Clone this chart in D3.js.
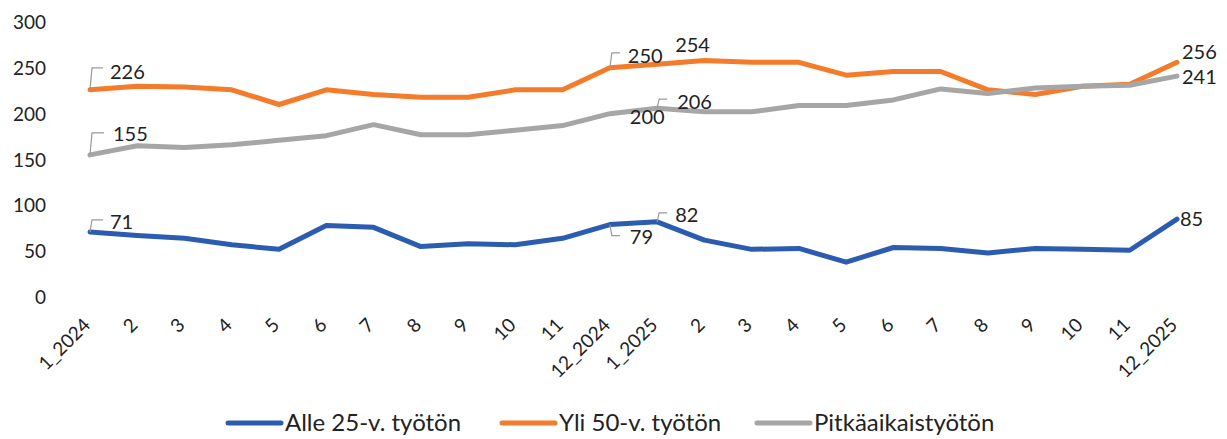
<!DOCTYPE html>
<html>
<head>
<meta charset="utf-8">
<script src="https://cdn.jsdelivr.net/npm/d3@7"></script>
<style>
  body { margin: 0; background: #fff; }
  text { font-family: Lato, "Noto Sans", sans-serif; fill: #222; }
  .tick text { font-size: 19px; }
  .lbl { font-size: 20px; }
  .legend text { font-size: 24px; }
</style>
</head>
<body>
<div id="wrapper"></div>
<script>
// kuukaudet
const months = ['1_2024', '2', '3', '4', '5', '6', '7', '8', '9', '10', '11', '12_2024',
    '1_2025', '2', '3', '4', '5', '6', '7', '8', '9', '10', '11', '12_2025'];
const seriesNames = ['Alle 25-v. työtön', 'Yli 50-v. työtön', 'Pitkäaikaistyötön'];
const alle25 = [71, 67, 64, 57, 52, 78, 76, 55, 58, 57, 64, 79, 82, 62, 52, 53, 38, 54, 53, 48, 53, 52, 51, 85];
const yli50 = [226, 230, 229, 226, 210, 226, 221, 218, 218, 226, 226, 250, 254, 258, 256, 256, 242, 246, 246, 226, 221, 230, 232, 256];
const pitka = [155, 165, 163, 166, 171, 176, 188, 177, 177, 182, 187, 200, 206, 202, 202, 209, 209, 215, 227, 222, 228, 230, 231, 241];
const yTicks = [0, 50, 100, 150, 200, 250, 300];

const colors = ['#2b5cb0', '#f47b2a', '#a6a6a6'];

const width = 1227;
const height = 439;

const svg = d3.select('#wrapper')
    .append('svg')
    .attr('width', width)
    .attr('height', height);

// x: indeksi, jotta toistuvat nimet eivät mene sekaisin
const x = d3.scalePoint()
    .domain(d3.range(months.length))
    .range([90, 1177]);

const y = d3.scaleLinear()
    .domain([0, 300])
    .range([297, 22]);

/// AKSELIT ///////////////////////////////
const yAxis = svg.append('g')
    .attr('transform', 'translate(46,0)')
    .call(d3.axisLeft(y).tickValues(yTicks).tickSize(0).tickPadding(0));
yAxis.select('.domain').remove();
yAxis.selectAll('text').attr('dy', '0.35em');

const xAxis = svg.append('g')
    .attr('transform', 'translate(0,297)')
    .call(d3.axisBottom(x).tickSize(0).tickFormat(i => months[i]));
xAxis.select('.domain').remove();
xAxis.selectAll('text')
    .style('text-anchor', 'end')
    .attr('dx', 0)
    .attr('dy', 0)
    .attr('transform', 'translate(-1,27) rotate(-45)');

/// VIIVAT ////////////////////////////////
const line = d3.line()
    .x((d, i) => x(i))
    .y(d => y(d));

const allSeries = [alle25, yli50, pitka];

svg.selectAll('path.serie')
    .data(allSeries)
    .enter()
    .append('path')
    .attr('class', 'serie')
    .attr('d', line)
    .attr('fill', 'none')
    .attr('stroke', (d, i) => colors[i])
    .attr('stroke-width', 5)
    .attr('stroke-linejoin', 'round')
    .attr('stroke-linecap', 'round');

/// ARVOTUNNISTEET ////////////////////////
// s = sarja, i = kuukausi, lead = johtoviiva, dx/dy tekstin siirto pisteestä
const labels = [
    { s: 1, i: 0, lead: true, lx: 13, ly: -22, dx: 20, dy: -18 },
    { s: 2, i: 0, lead: true, lx: 14, ly: -22, dx: 23, dy: -21 },
    { s: 0, i: 0, lead: true, lx: 13, ly: -12, dx: 20, dy: -10 },
    { s: 1, i: 11, lead: true, lx: 10, ly: -15, dx: 18, dy: -12 },
    { s: 1, i: 12, lead: false, dx: 18, dy: -19 },
    { s: 2, i: 12, lead: true, lx: 10, ly: -9, dx: 20, dy: -6 },
    { s: 2, i: 11, lead: false, dx: 20, dy: 3 },
    { s: 0, i: 12, lead: true, lx: 10, ly: -9, dx: 18, dy: -7 },
    { s: 0, i: 11, lead: true, lx: 10, ly: 11, dx: 20, dy: 12 },
    { s: 1, i: 23, lead: false, dx: 5, dy: -10 },
    { s: 2, i: 23, lead: false, dx: 5, dy: 1 },
    { s: 0, i: 23, lead: false, dx: 3, dy: 0 }
];

svg.selectAll('path.leader')
    .data(labels.filter(d => d.lead))
    .enter()
    .append('path')
    .attr('class', 'leader')
    .attr('fill', 'none')
    .attr('stroke', '#9a9a9a')
    .attr('stroke-width', 1.2)
    .attr('d', d => {
        const px = x(d.i), py = y(allSeries[d.s][d.i]);
        return 'M' + px + ',' + py + ' L' + (px + 2) + ',' + (py + d.ly) + ' L' + (px + d.lx) + ',' + (py + d.ly);
    });

svg.selectAll('text.lbl')
    .data(labels)
    .enter()
    .append('text')
    .attr('class', 'lbl')
    .attr('x', d => x(d.i) + d.dx)
    .attr('y', d => y(allSeries[d.s][d.i]) + d.dy)
    .attr('dy', '0.35em')
    .text(d => allSeries[d.s][d.i]);

/// SELITE ////////////////////////////////
const legendX = [228, 502, 757];
const legend = svg.append('g').attr('class', 'legend');

legend.selectAll('line')
    .data(seriesNames)
    .enter()
    .append('line')
    .attr('x1', (d, i) => legendX[i])
    .attr('x2', (d, i) => legendX[i] + 53)
    .attr('y1', 423)
    .attr('y2', 423)
    .attr('stroke', (d, i) => colors[i])
    .attr('stroke-width', 5)
    .attr('stroke-linecap', 'round');

legend.selectAll('text')
    .data(seriesNames)
    .enter()
    .append('text')
    .attr('x', (d, i) => legendX[i] + 57)
    .attr('y', 423)
    .attr('dy', '0.35em')
    .text(d => d);
</script>
</body>
</html>
